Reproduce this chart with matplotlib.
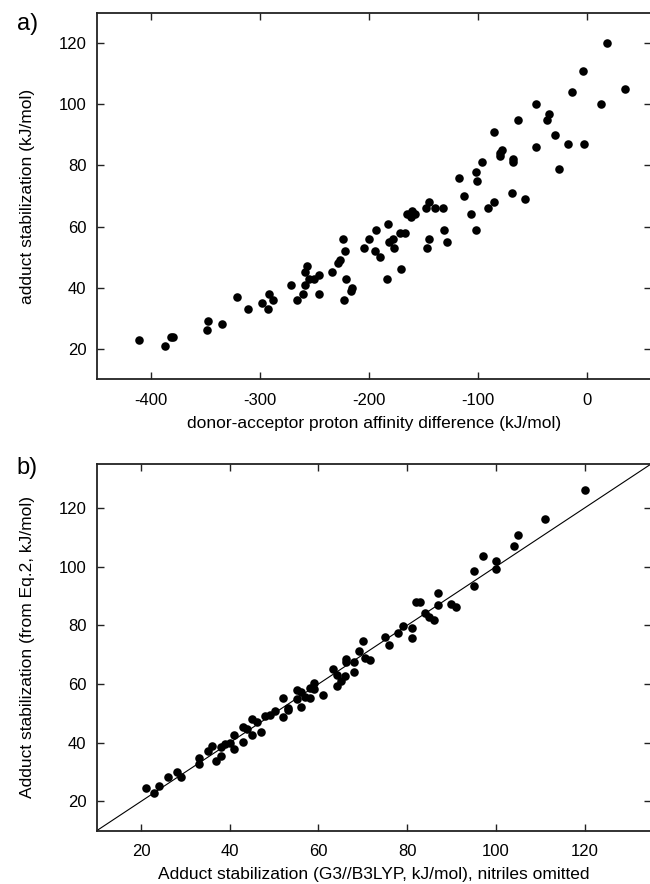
import numpy as np
import matplotlib
matplotlib.use('Agg')
import matplotlib.pyplot as plt

plt.rcParams['font.family'] = ['Liberation Sans', 'DejaVu Sans']
plt.rcParams['axes.unicode_minus'] = False

# panel a: proton affinity difference vs adduct stabilization
pa_diff = [-411, -387, -382, -380, -349, -348, -335, -321, -311, -298,
           -292, -293, -288, -272, -266, -261, -259, -259, -257, -255,
           -251, -246, -246, -234, -229, -227, -224, -222, -221, -223,
           -216, -217, -205, -200, -195, -194, -190, -184, -183, -182,
           -178, -177, -172, -167, -171, -165, -162, -161, -158, -148,
           -145, -140, -147, -145, -132, -131, -129, -118, -113, -107,
           -102, -101, -102, -97, -91, -86, -86, -80, -80, -78,
           -69, -68, -68, -64, -57, -47, -47, -37, -35, -30,
           -26, -18, -14, -4, -3, 13, 18, 35]
stab_a = [23, 21, 24, 24, 26, 29, 28, 37, 33, 35,
          38, 33, 36, 41, 36, 38, 41, 45, 47, 43,
          43, 44, 38, 45, 48, 49, 56, 52, 43, 36,
          40, 39, 53, 56, 52, 59, 50, 43, 61, 55,
          56, 53, 58, 58, 46, 64, 63, 65, 64, 66,
          68, 66, 53, 56, 66, 59, 55, 76, 70, 64,
          78, 75, 59, 81, 66, 68, 91, 83, 84, 85,
          71, 82, 81, 95, 69, 100, 86, 95, 97, 90,
          79, 87, 104, 111, 87, 100, 120, 105]

# panel b: G3//B3LYP vs Eq.2
stab_g3 = [21, 23, 24, 26, 28, 29, 33, 33, 35, 36,
           37, 38, 38, 39, 40, 41, 41, 43, 43, 44,
           45, 45.1, 46.1, 47.1, 48, 49.1, 50.1, 52, 52, 53.1,
           53.2, 55.1, 56.1, 55.2, 56.1, 57, 58.2, 58.1, 59.1, 59.1,
           61.1, 63.2, 64.1, 64.2, 65.1, 66.2, 66.2, 66.1, 68.1, 68.1,
           69.1, 70.1, 70.6, 71.6, 75, 76, 78, 79, 81, 81,
           82, 82.9, 84, 85, 86, 87, 87, 90, 91, 95,
           95, 97.1, 100.1, 100.1, 104.1, 105, 111, 120.1]
stab_eq2 = [24.5, 22.7, 25.1, 28.4, 30, 28.4, 32.7, 34.7, 37, 38.9,
            33.8, 35.6, 38.7, 39.6, 39.8, 37.7, 42.6, 40.2, 45.3, 44.6,
            42.7, 48, 47, 43.8, 49, 49.3, 50.8, 48.8, 55.3, 51,
            51.7, 58, 57.4, 54.8, 52.3, 55.7, 55.1, 58.5, 60.2, 58.2,
            56.4, 65, 59.3, 63, 61.2, 68.5, 67.5, 62.9, 64.1, 67.4,
            71.2, 74.5, 68.8, 68.2, 75.9, 73.3, 77.5, 79.8, 79, 75.8,
            87.9, 87.9, 84.1, 82.7, 81.8, 91, 86.9, 87.2, 86.3, 98.6,
            93.4, 103.7, 102.1, 99.3, 107.2, 110.9, 116.1, 126.3]

ticks_a_x = [-400, -300, -200, -100, 0]
ticks_y = [20, 40, 60, 80, 100, 120]
ticks_b_x = [20, 40, 60, 80, 100, 120]

fig = plt.figure(figsize=(6.5, 8.84), dpi=100)
ax1 = fig.add_axes([0.1488, 0.5709, 0.8528, 0.4147])
ax2 = fig.add_axes([0.1488, 0.0603, 0.8528, 0.4148])

for ax in (ax1, ax2):
    ax.tick_params(direction='in', top=True, right=True, length=5, width=1,
                   labelsize=12, color='#222222')
    ax.tick_params(axis='x', pad=9.5)
    ax.tick_params(axis='y', pad=7.5)
    for s in ax.spines.values():
        s.set_linewidth(1.3)
        s.set_color('#222222')

# panel a
ax1.scatter(pa_diff, stab_a, s=38, color='black', linewidths=0, zorder=3)
ax1.set_xlim(-450, 58.5)
ax1.set_ylim(10, 130)
ax1.set_xticks(ticks_a_x)
ax1.set_yticks(ticks_y)
ax1.set_xlabel('donor-acceptor proton affinity difference (kJ/mol)', fontsize=12.5, labelpad=6)
ax1.set_ylabel('adduct stabilization (kJ/mol)', fontsize=12.5)
ax1.yaxis.set_label_coords(-0.112, 0.5)

# panel b
ax2.plot([10, 135], [10, 135], color='black', linewidth=0.8, zorder=2)
ax2.scatter(stab_g3, stab_eq2, s=38, color='black', linewidths=0, zorder=3)
ax2.set_xlim(10, 135)
ax2.set_ylim(10, 135)
ax2.set_xticks(ticks_b_x)
ax2.set_yticks(ticks_y)
ax2.set_xlabel('Adduct stabilization (G3//B3LYP, kJ/mol), nitriles omitted', fontsize=12.5, labelpad=6)
ax2.set_ylabel('Adduct stabilization (from Eq.2, kJ/mol)', fontsize=12.5)
ax2.yaxis.set_label_coords(-0.112, 0.5)

fig.text(0.042, 0.973, 'a)', fontsize=17, ha='center', va='center')
fig.text(0.042, 0.471, 'b)', fontsize=17, ha='center', va='center')

fig.savefig('out.png', dpi=100)
